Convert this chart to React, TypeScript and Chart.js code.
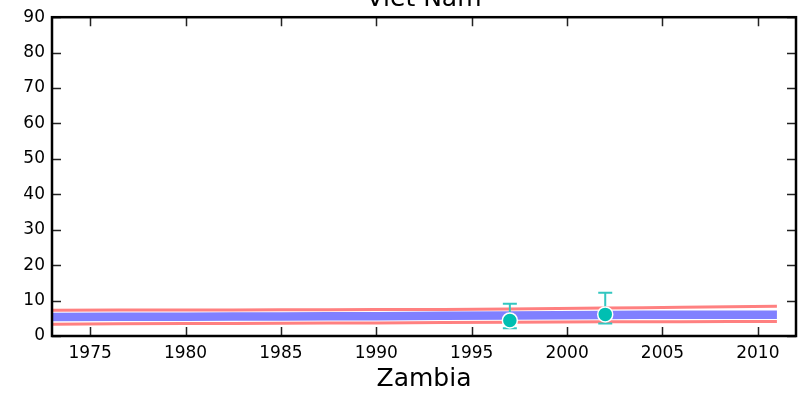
import React, { useEffect, useRef } from "react";
import { Chart, registerables } from "chart.js";

Chart.register(...registerables);

const bandYears = [1973, 1980, 1985, 1990, 1997, 2002, 2006, 2011];
const upperVals = [7.3, 7.35, 7.4, 7.45, 7.6, 7.9, 8.1, 8.4];
const midVals = [5.35, 5.45, 5.5, 5.6, 5.8, 5.95, 6.0, 6.0];
const lowerVals = [3.35, 3.5, 3.6, 3.7, 3.9, 4.0, 4.05, 4.1];

const obsYears = [1997, 2002];
const obsVals = [4.4, 6.1];
const obsLow = [2.2, 3.5];
const obsHigh = [9.1, 12.2];

const xTickValues = [1975, 1980, 1985, 1990, 1995, 2000, 2005, 2010];
const titleText = "Viet Nam";
const nextTitleText = "Zambia";

const FONT = "'DejaVu Sans', sans-serif";

export default function App() {
  const ref = useRef<HTMLCanvasElement | null>(null);

  useEffect(() => {
    document.body.style.margin = "0";
    const canvas = ref.current;
    if (!canvas) return;

    const toXY = (xs: number[], ys: number[]) => xs.map((x, i) => ({ x, y: ys[i] }));

    const errorBars = {
      id: "errorBars",
      afterDatasetDraw(chart: any, args: any) {
        if (args.index !== 1) return;
        const ctx = chart.ctx;
        const xs = chart.scales.x;
        const ys = chart.scales.y;
        ctx.save();
        ctx.strokeStyle = "#33c6c0";
        ctx.lineWidth = 2;
        obsYears.forEach((yr, i) => {
          const px = xs.getPixelForValue(yr);
          const lo = ys.getPixelForValue(obsLow[i]);
          const hi = ys.getPixelForValue(obsHigh[i]);
          ctx.beginPath();
          ctx.moveTo(px, lo);
          ctx.lineTo(px, hi);
          ctx.moveTo(px - 7, lo);
          ctx.lineTo(px + 7, lo);
          ctx.moveTo(px - 7, hi);
          ctx.lineTo(px + 7, hi);
          ctx.stroke();
        });
        ctx.restore();
      },
    };

    const frame = {
      id: "frame",
      afterDraw(chart: any) {
        const ctx = chart.ctx;
        const a = chart.chartArea;
        const xs = chart.scales.x;
        const ys = chart.scales.y;
        ctx.save();
        ctx.strokeStyle = "#222";
        ctx.lineWidth = 1.5;
        const tl = 9;
        xs.ticks.forEach((t: any) => {
          const px = Math.round(xs.getPixelForValue(t.value)) + 0.5;
          ctx.beginPath();
          ctx.moveTo(px, a.bottom);
          ctx.lineTo(px, a.bottom - tl);
          ctx.moveTo(px, a.top);
          ctx.lineTo(px, a.top + tl);
          ctx.stroke();
        });
        ys.ticks.forEach((t: any) => {
          const py = Math.round(ys.getPixelForValue(t.value)) + 0.5;
          ctx.beginPath();
          ctx.moveTo(a.left, py);
          ctx.lineTo(a.left + tl, py);
          ctx.moveTo(a.right, py);
          ctx.lineTo(a.right - tl, py);
          ctx.stroke();
        });
        ctx.strokeStyle = "#000";
        ctx.lineWidth = 2.5;
        ctx.strokeRect(a.left, a.top, a.right - a.left, a.bottom - a.top);
        ctx.fillStyle = "#000";
        ctx.font = `25px ${FONT}`;
        ctx.textAlign = "center";
        ctx.textBaseline = "alphabetic";
        const cx = (a.left + a.right) / 2;
        ctx.fillText(titleText, cx, 6);
        ctx.fillText(nextTitleText, cx, 386);
        ctx.restore();
      },
    };

    const chart = new Chart(canvas, {
      type: "line",
      data: {
        datasets: [
          {
            type: "scatter",
            data: toXY(obsYears, obsVals),
            backgroundColor: "#00bfb2",
            borderColor: "#ffffff",
            borderWidth: 1.5,
            pointRadius: 7.5,
            showLine: false,
          } as any,
          {
            data: toXY(bandYears, midVals),
            borderColor: "#8080ff",
            borderWidth: 8.5,
            pointRadius: 0,
            borderCapStyle: "butt",
            tension: 0.3,
          },
          {
            data: toXY(bandYears, upperVals),
            borderColor: "#ff8080",
            borderWidth: 3,
            pointRadius: 0,
            tension: 0.3,
          },
          {
            data: toXY(bandYears, lowerVals),
            borderColor: "#ff8080",
            borderWidth: 3,
            pointRadius: 0,
            tension: 0.3,
          },
        ],
      },
      options: {
        animation: false,
        responsive: false,
        devicePixelRatio: 1,
        layout: { padding: { top: 16, right: 8, left: 0, bottom: 0 } },
        plugins: { legend: { display: false }, tooltip: { enabled: false } },
        scales: {
          x: {
            type: "linear",
            min: 1973,
            max: 2012,
            grid: { display: false, drawTicks: false },
            border: { display: false },
            afterBuildTicks: (s: any) => {
              s.ticks = xTickValues.map((v) => ({ value: v }));
            },
            afterFit: (s: any) => {
              s.height = 57;
            },
            ticks: {
              padding: 7,
              color: "#000",
              font: { family: FONT, size: 17 },
              maxRotation: 0,
              callback: (v: any) => String(v),
            },
          },
          y: {
            type: "linear",
            min: 0,
            max: 90,
            grid: { display: false, drawTicks: false },
            border: { display: false },
            afterFit: (s: any) => {
              s.width = 52;
            },
            ticks: {
              stepSize: 10,
              padding: 7,
              color: "#000",
              font: { family: FONT, size: 17 },
              callback: (v: any) => String(v),
            },
          },
        },
      },
      plugins: [errorBars, frame],
    });

    return () => chart.destroy();
  }, []);

  return (
    <div style={{ position: "absolute", left: 0, top: 0, width: 805, height: 393, background: "#fff" }}>
      <canvas ref={ref} width={805} height={393} />
    </div>
  );
}
